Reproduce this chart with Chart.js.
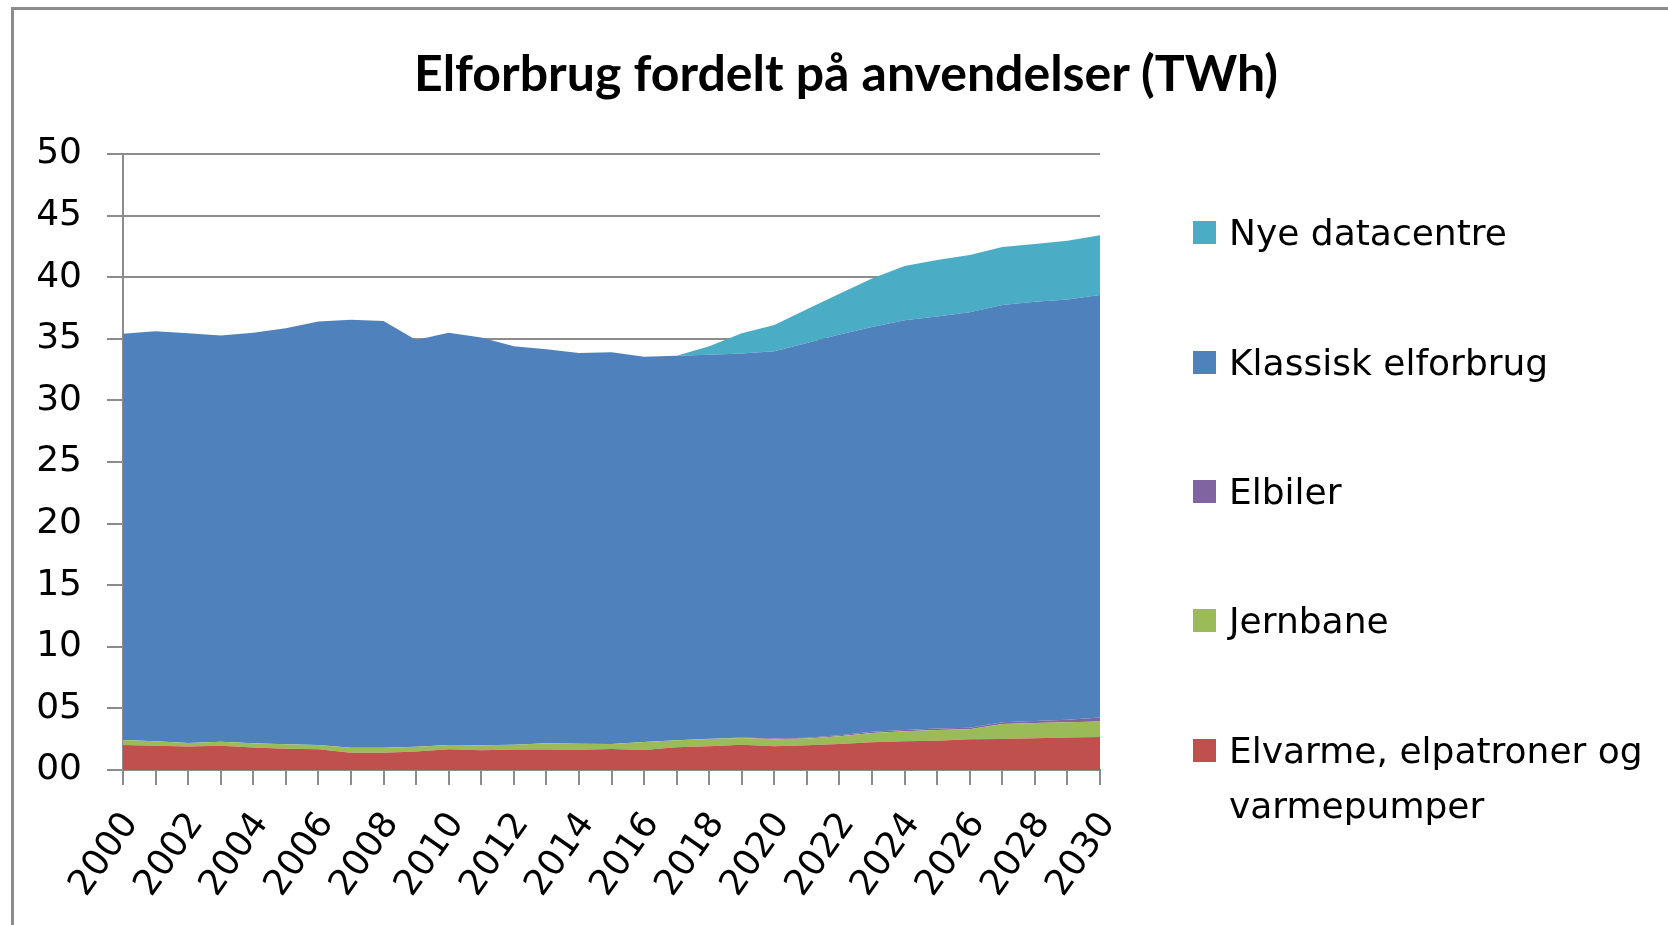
<!DOCTYPE html>
<html>
<head>
<meta charset="utf-8">
<script src="https://cdn.jsdelivr.net/npm/chart.js@4.4.1/dist/chart.umd.min.js"></script>
<style>
  html, body { margin: 0; padding: 0; background: #fff; overflow: hidden; width: 1668px; height: 925px; }
  #frame { position: absolute; left: 11px; top: 7px; width: 1800px; height: 1200px; border: 3px solid #8c8c8c; box-sizing: border-box; }
  #c { position: absolute; left: 0; top: 0; }
  #title { position: absolute; left: 0; top: 42px; width: 1692px; text-align: center; font-family: 'Lato', sans-serif; font-weight: bold; font-size: 50px; line-height: 60px; color: #000; white-space: nowrap; }
  .lg-sq { position: absolute; width: 23px; height: 23px; }
  .lg-tx { position: absolute; font-family: 'DejaVu Sans', sans-serif; font-size: 36px; line-height: 55px; color: #000; white-space: nowrap; }
</style>
</head>
<body>
<div id="frame"></div>
<canvas id="c" width="1692" height="925"></canvas>
<div id="title">Elforbrug fordelt på anvendelser (TWh)</div>
<div id="legend"></div>
<script>
const years = [2000,2001,2002,2003,2004,2005,2006,2007,2008,2009,2010,2011,2012,2013,2014,2015,2016,2017,2018,2019,2020,2021,2022,2023,2024,2025,2026,2027,2028,2029,2030];
const yTickLabels = ['00','05','10','15','20','25','30','35','40','45','50'];

const elvarme = [2.03,1.97,1.90,1.97,1.82,1.73,1.69,1.40,1.40,1.50,1.68,1.60,1.67,1.67,1.65,1.71,1.62,1.85,1.93,2.04,1.92,2.00,2.11,2.25,2.33,2.38,2.49,2.52,2.57,2.64,2.68];
const jernbane = [0.41,0.36,0.29,0.33,0.35,0.35,0.34,0.40,0.40,0.39,0.35,0.40,0.38,0.50,0.49,0.41,0.65,0.56,0.59,0.56,0.58,0.55,0.63,0.75,0.81,0.87,0.81,1.22,1.25,1.23,1.25];
const elbiler = [0,0,0,0,0,0,0,0,0,0,0,0,0,0,0,0,0,0.01,0.02,0.03,0.05,0.07,0.09,0.10,0.11,0.12,0.13,0.14,0.16,0.20,0.33];
const klassisk = [32.96,33.29,33.26,32.97,33.33,33.77,34.37,34.75,34.65,33.01,33.47,33.10,32.35,31.98,31.71,31.78,31.28,31.20,31.16,31.17,31.43,32.03,32.52,32.85,33.25,33.43,33.72,33.87,34.02,34.13,34.29];
const datacentre = [0,0,0,0,0,0,0,0,0,0,0,0,0,0,0,0,0,0,0.70,1.65,2.15,2.75,3.30,3.95,4.40,4.60,4.65,4.70,4.70,4.75,4.85];

const seriesNames = ['Elvarme, elpatroner og varmepumper','Jernbane','Elbiler','Klassisk elforbrug','Nye datacentre'];
const seriesColors = ['#C0504D','#9BBB59','#8064A2','#4F81BD','#4BACC6'];
const seriesData = [elvarme, jernbane, elbiler, klassisk, datacentre];

const gridColor = '#8c8c8c';
const tickFont = { family: 'DejaVu Sans', size: 36 };

const datasets = seriesData.map((d, i) => ({
  label: seriesNames[i],
  data: d,
  backgroundColor: seriesColors[i],
  borderColor: seriesColors[i],
  borderWidth: 0,
  pointRadius: 0,
  tension: 0,
  fill: i === 0 ? 'origin' : '-1'
}));

new Chart(document.getElementById('c'), {
  type: 'line',
  data: { labels: years.map(String), datasets },
  options: {
    responsive: false,
    devicePixelRatio: 1,
    animation: false,
    layout: { padding: { left: 0, right: 592, top: 154, bottom: 0 } },
    plugins: {
      legend: { display: false },
      tooltip: { enabled: false },
      title: { display: false }
    },
    scales: {
      x: {
        type: 'category',
        offset: false,
        grid: { display: true, drawOnChartArea: false, drawTicks: true, tickLength: 15, color: gridColor, lineWidth: 2 },
        border: { display: true, color: gridColor, width: 2 },
        ticks: {
          autoSkip: false, maxRotation: 55, minRotation: 55, padding: 20, labelOffset: 8,
          color: '#000', font: tickFont,
          callback: function (v, i) { return i % 2 === 0 ? String(years[i]) : ''; }
        },
        afterFit: s => { s.height = 925 - 770; }
      },
      y: {
        stacked: true,
        min: 0, max: 50,
        grid: { color: gridColor, lineWidth: 2, tickLength: 16, drawTicks: true },
        border: { display: true, color: gridColor, width: 2 },
        ticks: {
          stepSize: 5, padding: 25, color: '#000', font: tickFont,
          callback: v => yTickLabels[Math.round(v / 5)]
        },
        afterFit: s => { s.width = 123; }
      }
    }
  }
});

// HTML legend (top to bottom: reverse of stack order)
const legendCenters = [232, 362, 491, 620, 750];
const lg = document.getElementById('legend');
for (let k = 0; k < seriesNames.length; k++) {
  const i = seriesNames.length - 1 - k;
  const cy = legendCenters[k];
  const sq = document.createElement('div');
  sq.className = 'lg-sq';
  sq.style.left = '1193px';
  sq.style.top = (cy - 11.5) + 'px';
  sq.style.background = seriesColors[i];
  lg.appendChild(sq);
  const tx = document.createElement('div');
  tx.className = 'lg-tx';
  tx.style.left = '1229px';
  tx.style.top = (cy - 27.5) + 'px';
  if (i === 0) {
    tx.innerHTML = 'Elvarme, elpatroner og<br>varmepumper';
  } else {
    tx.textContent = seriesNames[i];
  }
  lg.appendChild(tx);
}
</script>
</body>
</html>
